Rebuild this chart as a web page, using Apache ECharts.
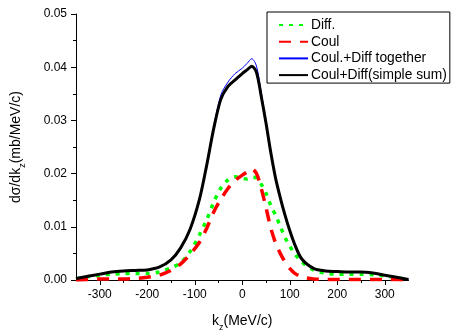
<!DOCTYPE html>
<html><head><meta charset="utf-8">
<script src="https://cdn.jsdelivr.net/npm/echarts@6/dist/echarts.min.js"></script>
<style>html,body{margin:0;padding:0;background:#fff}#c{width:453px;height:331px}</style>
</head><body><div id="c"></div>
<script>
const kValues = [-350,-325,-300,-275,-250,-225,-200,-175,-150,-130,-110,-90,-75,-60,-45,-30,-15,0,10,20,30,40,50,60,70,80,90,100,110,125,150,175,200,225,250,275,300,325,350];
const diff = [0.0002,0.0006,0.0009,0.0011,0.0012,0.0012,0.0012,0.0015,0.0023,0.0032,0.0053,0.0085,0.0113,0.0146,0.0173,0.0188,0.0194,0.0191,0.0190,0.0193,0.0192,0.0180,0.0163,0.0140,0.0122,0.0101,0.0080,0.0064,0.0050,0.0034,0.0019,0.0013,0.0011,0.0011,0.0011,0.0010,0.0008,0.0004,0.0001];
const coul = [0.0000,0.0001,0.0002,0.0002,0.0002,0.0003,0.0005,0.0009,0.0018,0.0030,0.0048,0.0071,0.0097,0.0128,0.0152,0.0172,0.0187,0.0197,0.0203,0.0209,0.0200,0.0172,0.0136,0.0098,0.0070,0.0050,0.0034,0.0022,0.0013,0.0006,0.0002,0.0001,0.0001,0.0001,0.0001,0.0001,0.0001,0.0001,0.0000];
const together = [0.0003,0.0007,0.0011,0.0015,0.0017,0.0018,0.0019,0.0024,0.0038,0.0060,0.0095,0.0152,0.0215,0.0288,0.0348,0.0372,0.0388,0.0398,0.0407,0.0416,0.0402,0.0352,0.0298,0.0240,0.0192,0.0155,0.0122,0.0093,0.0068,0.0040,0.0022,0.0017,0.0016,0.0015,0.0015,0.0013,0.0009,0.0005,0.0001];
const simpleSum = [0.0003,0.0007,0.0011,0.0015,0.0017,0.0018,0.0019,0.0024,0.0038,0.0060,0.0095,0.0152,0.0215,0.0285,0.0340,0.0364,0.0376,0.0388,0.0395,0.0402,0.0390,0.0345,0.0295,0.0240,0.0192,0.0155,0.0122,0.0093,0.0068,0.0040,0.0022,0.0017,0.0016,0.0015,0.0015,0.0013,0.0009,0.0005,0.0001];
const xMajorTicks = [-300,-200,-100,0,100,200,300];
const xMinorTicks = [-250,-150,-50,50,150,250];
const seriesNames = ['Diff.','Coul','Coul.+Diff together','Coul+Diff(simple sum)'];

const zip = arr => kValues.map((k,i)=>[k,arr[i]]);
const font = 'Liberation Sans, Arial, sans-serif';
const chart = echarts.init(document.getElementById('c'));
chart.setOption({
  animation:false,
  grid:{left:76,right:44.5,top:14,bottom:51,outerBoundsMode:'none',containLabel:false},
  legend:{
    orient:'vertical', left:267, top:12, padding:[6,3,1,11], itemGap:2.7,
    itemWidth:29, itemHeight:14, borderColor:'#000', borderWidth:1,
    itemStyle:{opacity:0},
    textStyle:{fontFamily:font,fontSize:13.8,color:'#000',padding:[0,0,0,-2]},
    data:seriesNames
  },
  xAxis:[{
    type:'value', min:-350, max:350, interval:50,
    axisLine:{onZero:false,lineStyle:{color:'#000',width:1}},
    axisTick:{show:true,length:5,customValues:xMajorTicks,lineStyle:{color:'#000'}},
    axisLabel:{customValues:xMajorTicks,fontFamily:font,fontSize:12,color:'#000',margin:9},
    splitLine:{show:false},
    name:'{a|k}{s|z}{a|(MeV/c)}', nameLocation:'middle', nameGap:31,
    nameTextStyle:{rich:{a:{fontFamily:font,fontSize:14,color:'#000'},s:{fontFamily:font,fontSize:9,color:'#000',verticalAlign:'bottom',padding:[12,0,0,0]}}}
  },{
    type:'value', min:-350, max:350, position:'bottom',
    axisLine:{show:false,onZero:false}, axisLabel:{show:false}, splitLine:{show:false},
    axisTick:{show:true,length:3,customValues:xMinorTicks,lineStyle:{color:'#000'}}
  }],
  yAxis:{
    type:'value', min:0, max:0.05, interval:0.01,
    axisLine:{show:true,onZero:false,lineStyle:{color:'#000',width:1}},
    axisTick:{show:true,length:5,lineStyle:{color:'#000'}},
    minorTick:{show:true,splitNumber:2,length:3,lineStyle:{color:'#000'}},
    axisLabel:{formatter:v=>v.toFixed(2),fontFamily:font,fontSize:12,color:'#000',margin:9},
    splitLine:{show:false},
    name:'{a|d\u03C3/dk}{s|z}{a|(mb/MeV/c)}', nameLocation:'middle', nameGap:49,
    nameTextStyle:{rich:{a:{fontFamily:font,fontSize:14,color:'#000'},s:{fontFamily:font,fontSize:9,color:'#000',verticalAlign:'bottom',padding:[12,0,0,0]}}}
  },
  series:[
    {name:seriesNames[0],type:'line',data:zip(diff),symbol:'none',smooth:0.3,color:'#00ff00',lineStyle:{color:'#00ff00',width:3.5,type:[4,6]}},
    {name:seriesNames[1],type:'line',data:zip(coul),symbol:'none',smooth:0.3,color:'#ff0000',lineStyle:{color:'#ff0000',width:3.5,type:[12,9]}},
    {name:seriesNames[2],type:'line',data:zip(together),symbol:'none',smooth:0.3,color:'#0000ff',lineStyle:{color:'#0000ff',width:1}},
    {name:seriesNames[3],type:'line',data:zip(simpleSum),symbol:'none',smooth:0.3,color:'#000',lineStyle:{color:'#000',width:3}}
  ]
});
</script></body></html>
